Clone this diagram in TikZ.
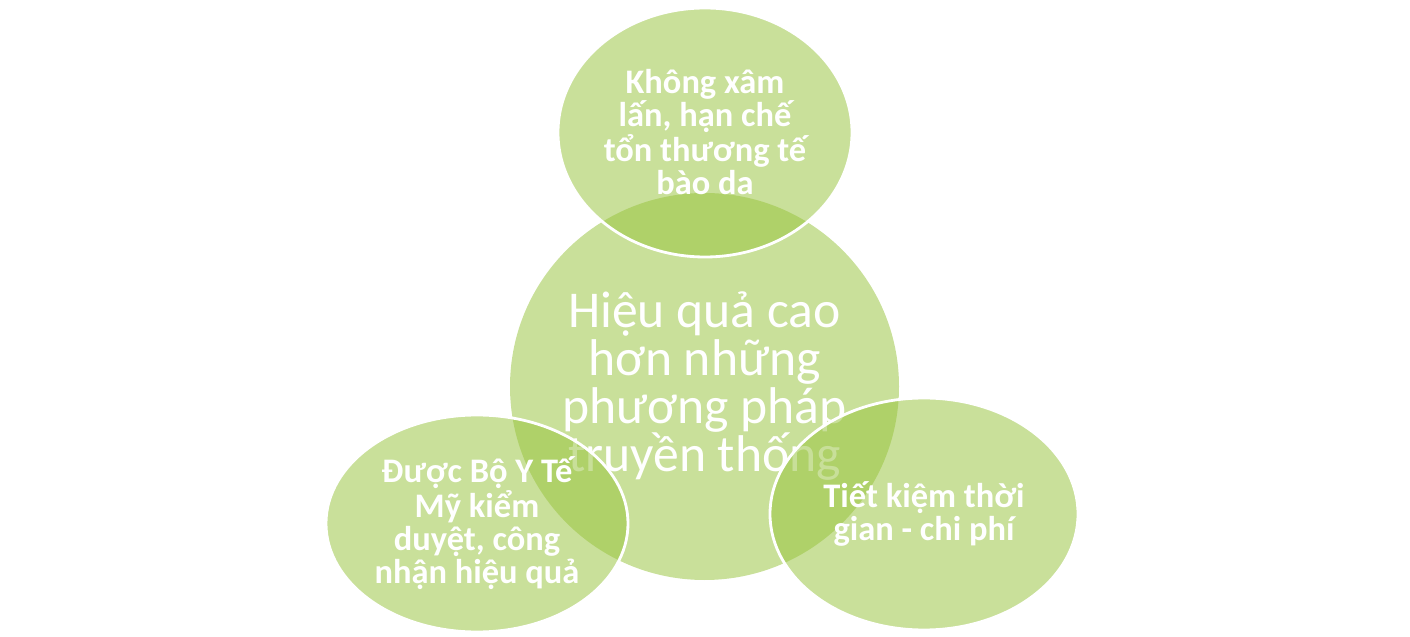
\documentclass[tikz,border=0pt]{standalone}
\usepackage{fontspec}
\setmainfont{Carlito}
\usetikzlibrary{shapes.geometric}
\definecolor{leafgreen}{RGB}{151,195,61}
\tikzset{
  bubble/.style={ellipse, inner sep=0pt, fill=leafgreen, fill opacity=0.52,
    text opacity=1, text=white, align=center},
  rimmed/.style={bubble, draw=white, draw opacity=1, line width=1.6pt},
  smalltext/.style={font=\fontsize{19.6pt}{18.8pt}\selectfont\bfseries},
  bigtext/.style={font=\fontsize{29.4pt}{27.3pt}\selectfont}
}
\begin{document}
\begin{tikzpicture}
  % canvas: 1410 x 637 px, 1px = 0.02cm
  \useasboundingbox (0,0) rectangle (28.2,-12.74);

  % central circle (shape first, then its text)
  \node[bubble, minimum width=7.78cm, minimum height=7.74cm]
    (core) at (14.09,-7.73) {};
  \node[text=white, align=center, inner sep=0pt, bigtext]
    (coretext) at (core.center) {Hiệu quả cao\\hơn những\\phương pháp\\truyền thống};

  % outer ellipses, drawn on top of the core
  \node[rimmed, smalltext, minimum width=5.88cm, minimum height=4.98cm]
    (noninvasive) at (14.10,-2.65) {Không xâm\\lấn, hạn chế\\tổn thương tế\\bào da};
  \node[rimmed, smalltext, minimum width=6.04cm, minimum height=4.34cm]
    (approved) at (9.54,-10.47) {Được Bộ Y Tế\\Mỹ kiểm\\duyệt, công\\nhận hiệu quả};
  \node[rimmed, smalltext, minimum width=6.16cm, minimum height=4.64cm]
    (saving) at (18.48,-10.28) {Tiết kiệm thời\\gian - chi phí};
\end{tikzpicture}
\end{document}
